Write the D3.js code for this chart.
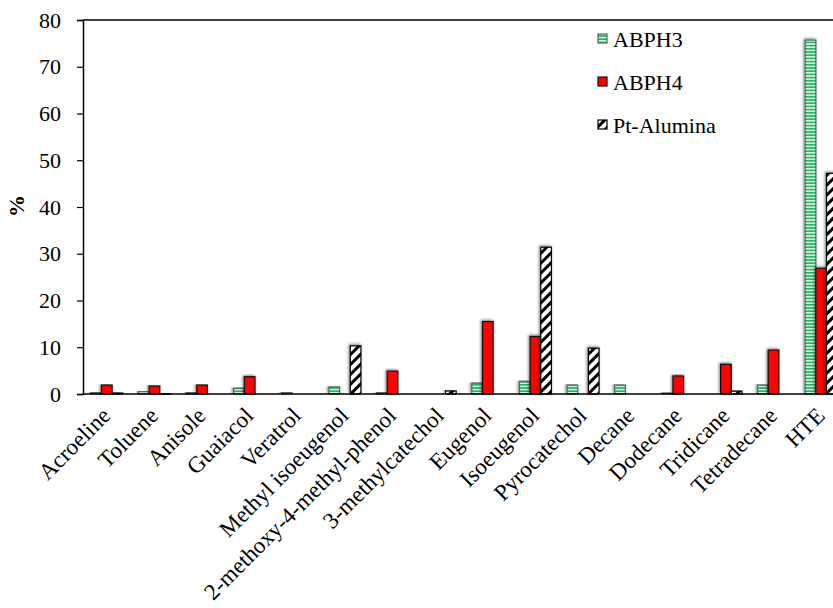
<!DOCTYPE html>
<html><head><meta charset="utf-8">
<script src="https://cdn.jsdelivr.net/npm/d3@7"></script>
<style>body{margin:0;background:#fff}svg{display:block}</style>
</head><body><svg id="c" width="833" height="608"></svg>
<script>
const categories = ["Acroeline","Toluene","Anisole","Guaiacol","Veratrol","Methyl isoeugenol","2-methoxy-4-methyl-phenol","3-methylcatechol","Eugenol","Isoeugenol","Pyrocatechol","Decane","Dodecane","Tridicane","Tetradecane","HTE"];
const seriesNames = ["ABPH3","ABPH4","Pt-Alumina"];
const abph3 = [0.3,0.5,0.3,1.2,0.3,1.5,0.3,0,2.3,2.6,1.9,1.9,0.2,0,1.9,75.7];
const abph4 = [1.9,1.7,1.9,3.7,0,0,4.9,0,15.5,12.3,0,0,3.85,6.35,9.4,26.9];
const ptAlumina = [0.2,0.1,0,0,0,10.3,0,0.65,0,31.4,9.8,0,0,0.6,0,47.2];
const yTicks = [0,10,20,30,40,50,60,70,80];

(function(){
const FONT = "'Liberation Serif', 'Times New Roman', serif";
const svg = d3.select("#c");
const mLeft = 83, mTop = 20, mBottom = 394;
const x = d3.scaleBand().domain(categories).range([mLeft, 845]).padding(0);
const inner = d3.scaleBand().domain(seriesNames).range([-16, 16]).padding(0);
const y = d3.scaleLinear().domain([0, 80]).range([mBottom, mTop]);

const defs = svg.append("defs");
const pg = defs.append("pattern").attr("id","pGreen").attr("patternUnits","userSpaceOnUse").attr("width",6).attr("height",3.2);
pg.append("rect").attr("width",6).attr("height",3.2).attr("fill","#c8f7dc");
pg.append("rect").attr("width",6).attr("height",1.6).attr("fill","#2fae62");
const ph = defs.append("pattern").attr("id","pHatch").attr("patternUnits","userSpaceOnUse").attr("width",7).attr("height",7).attr("patternTransform","rotate(45)");
ph.append("rect").attr("width",7).attr("height",7).attr("fill","#fff");
ph.append("rect").attr("width",3).attr("height",7).attr("fill","#000");
const f = defs.append("filter").attr("id","shadow").attr("x","-50%").attr("y","-10%").attr("width","200%").attr("height","120%");
f.append("feGaussianBlur").attr("in","SourceAlpha").attr("stdDeviation",1.8).attr("result","b");
f.append("feOffset").attr("in","b").attr("dx",-1.5).attr("dy",-1).attr("result","o");
f.append("feComponentTransfer").attr("in","o").attr("result","s").append("feFuncA").attr("type","linear").attr("slope",0.5);
const fm = f.append("feMerge"); fm.append("feMergeNode").attr("in","s"); fm.append("feMergeNode").attr("in","SourceGraphic");

const styles = {
  "ABPH3": {fill:"url(#pGreen)", stroke:"#4d6b58"},
  "ABPH4": {fill:"#ff0000", stroke:"#111"},
  "Pt-Alumina": {fill:"url(#pHatch)", stroke:"#000"}
};
const data = [abph3, abph4, ptAlumina];

const gBars = svg.append("g");
categories.forEach((c, i) => {
  seriesNames.forEach((s, k) => {
    const v = data[k][i];
    if (v <= 0) return;
    const x0 = x(c) + x.bandwidth()/2 + inner(s);
    gBars.append("rect")
      .attr("x", x0).attr("width", inner.bandwidth())
      .attr("y", y(v)).attr("height", mBottom - y(v))
      .attr("fill", styles[s].fill).attr("stroke", styles[s].stroke).attr("stroke-width", 1.2)
      .attr("filter", "url(#shadow)");
  });
});

svg.append("line").attr("x1", mLeft).attr("x2", 833).attr("y1", mTop).attr("y2", mTop).attr("stroke", "#000").attr("stroke-width", 1.5);
svg.append("line").attr("x1", mLeft).attr("x2", 833).attr("y1", mBottom).attr("y2", mBottom).attr("stroke", "#000").attr("stroke-width", 1.5);

const ya = svg.append("g").attr("transform", `translate(${mLeft},0)`)
  .call(d3.axisLeft(y).tickValues(yTicks).tickSize(6).tickPadding(16));
ya.attr("font-family", FONT).attr("font-size", 22);
ya.select(".domain").attr("stroke", "#000").attr("stroke-width", 1.5);
ya.selectAll(".tick line").attr("stroke", "#000").attr("stroke-width", 1.2);
ya.selectAll(".tick text").attr("fill", "#000");

svg.append("text").attr("transform", "translate(24,206) rotate(-90)").attr("text-anchor", "middle")
  .attr("font-family", FONT).attr("font-size", 22).attr("font-weight", "bold").text("%");

svg.append("g").selectAll("text").data(categories).join("text")
  .attr("transform", d => `translate(${x(d) + x.bandwidth()/2 + 5},417) rotate(-45)`)
  .attr("text-anchor", "end").attr("font-family", FONT).attr("font-size", 23).attr("fill", "#000").text(d => d);

const lg = svg.append("g");
seriesNames.forEach((s, k) => {
  const yy = 47 + k * 43;
  lg.append("rect").attr("x", 598).attr("y", yy - 13).attr("width", 9).attr("height", 9)
    .attr("fill", styles[s].fill).attr("stroke", styles[s].stroke).attr("stroke-width", 1.2);
  lg.append("text").attr("x", 613).attr("y", yy).attr("font-family", FONT).attr("font-size", 22).attr("fill", "#000").text(s);
});
})();
</script></body></html>
